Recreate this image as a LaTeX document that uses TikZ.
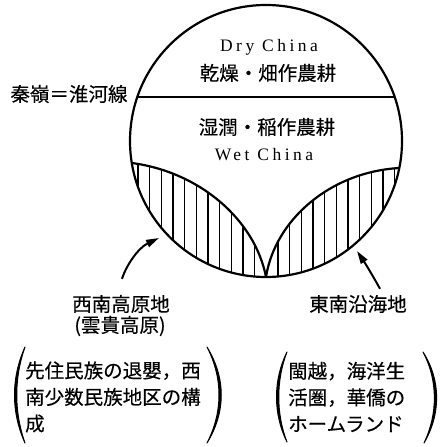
\documentclass[tikz,border=0pt]{standalone}
\usepackage{fontspec}
\setmainfont{Liberation Serif}
\newfontfamily\jp{Noto Sans CJK JP}[FakeBold=0.3]
\newfontfamily\lat{Liberation Serif}[LetterSpace=20]
\usetikzlibrary{arrows.meta,calc}
\tikzset{
  jptext/.style={font=\jp\fontsize{19.5}{26.5}\selectfont, inner sep=0pt},
  lattext/.style={font=\lat\fontsize{17.5}{20}\selectfont, inner sep=0pt},
  outline/.style={line width=2.2pt},
  divider/.style={line width=1.6pt},
  hatchline/.style={line width=1.3pt},
  arr/.style={line width=2pt, -{Triangle[length=13pt,width=7.5pt]}},
  paren/.style={fill=black, draw=black, line width=1pt, line join=round}
}
\begin{document}
\begin{tikzpicture}[x=1pt,y=-1pt]
\useasboundingbox (0,0) rectangle (441,447);
% key points
\coordinate (O) at (266,141);
\coordinate (bot) at (266,277);
\coordinate (tL) at (131.8,163);
\coordinate (tR) at (399.3,168);
\coordinate (hL) at (137.3,97);
\coordinate (hR) at (394.7,97);
% hatching left
\begin{scope}
  \clip (O) circle[radius=136pt];
  \clip (tL) .. controls (200,172) and (255,220) .. (bot) -- (100,300) -- (100,150) -- cycle;
  \foreach \k in {0,...,23} \draw[hatchline] ({138+11.67*\k},140) -- ++(0,160);
\end{scope}
% hatching right
\begin{scope}
  \clip (O) circle[radius=136pt];
  \clip (tR) .. controls (330,172) and (275,220) .. (bot) -- (420,300) -- (420,150) -- cycle;
  \foreach \k in {0,...,23} \draw[hatchline] ({138+11.67*\k},140) -- ++(0,160);
\end{scope}
% region boundaries
\draw[outline] (tL) .. controls (200,172) and (255,220) .. (bot);
\draw[outline] (tR) .. controls (330,172) and (275,220) .. (bot);
\draw[outline] (O) circle[radius=136pt];
\draw[divider] (hL) -- (hR);
% texts in circle
\node[lattext] (dry) at (269,47) {Dry China};
\node[jptext] (dryjp) at (268,73) {乾燥・畑作農耕};
\node[jptext] (wetjp) at (267,127) {湿潤・稲作農耕};
\node[lattext] (wet) at (264,155) {Wet China};
\node[jptext] (qin) at (69,94) {秦嶺＝淮河線};
% labels below
\node[jptext] (swl) at (121,304) {西南高原地};
\node[jptext] (swl2) at (120,326) {(雲貴高原)};
\node[jptext] (sel) at (358,304) {東南沿海地};
% arrows
\coordinate (tipL) at (159,238);
\coordinate (tipR) at (357,251);
\draw[arr] ($(swl.north)+(1,-16)$) .. controls (126,266) and (138,248) .. (tipL);
\draw[arr] ($(sel.north)+(22,-6)$) .. controls (373,276) and (365,263) .. (tipR);
% bracketed blocks
\node[jptext, anchor=west, align=left] (swb) at (25,397) {先住民族の退嬰，西\\南少数民族地区の構\\成};
\node[jptext, anchor=west, align=left] (seb) at (288,397) {閩越，海洋生\\活圏，華僑の\\ホームランド};
% parentheses
\filldraw[paren] (25,347) .. controls (11,378) and (11,412) .. (25,443) .. controls (14,412) and (14,378) .. (25,347) -- cycle;
\filldraw[paren] (207,347) .. controls (226,378) and (226,412) .. (207,443) .. controls (223,412) and (223,378) .. (207,347) -- cycle;
\filldraw[paren] (287,352) .. controls (273,380) and (273,414) .. (287,442) .. controls (276,414) and (276,380) .. (287,352) -- cycle;
\filldraw[paren] (423,352) .. controls (441,380) and (441,414) .. (424,443) .. controls (438,414) and (438,380) .. (423,352) -- cycle;
\end{tikzpicture}
\end{document}
